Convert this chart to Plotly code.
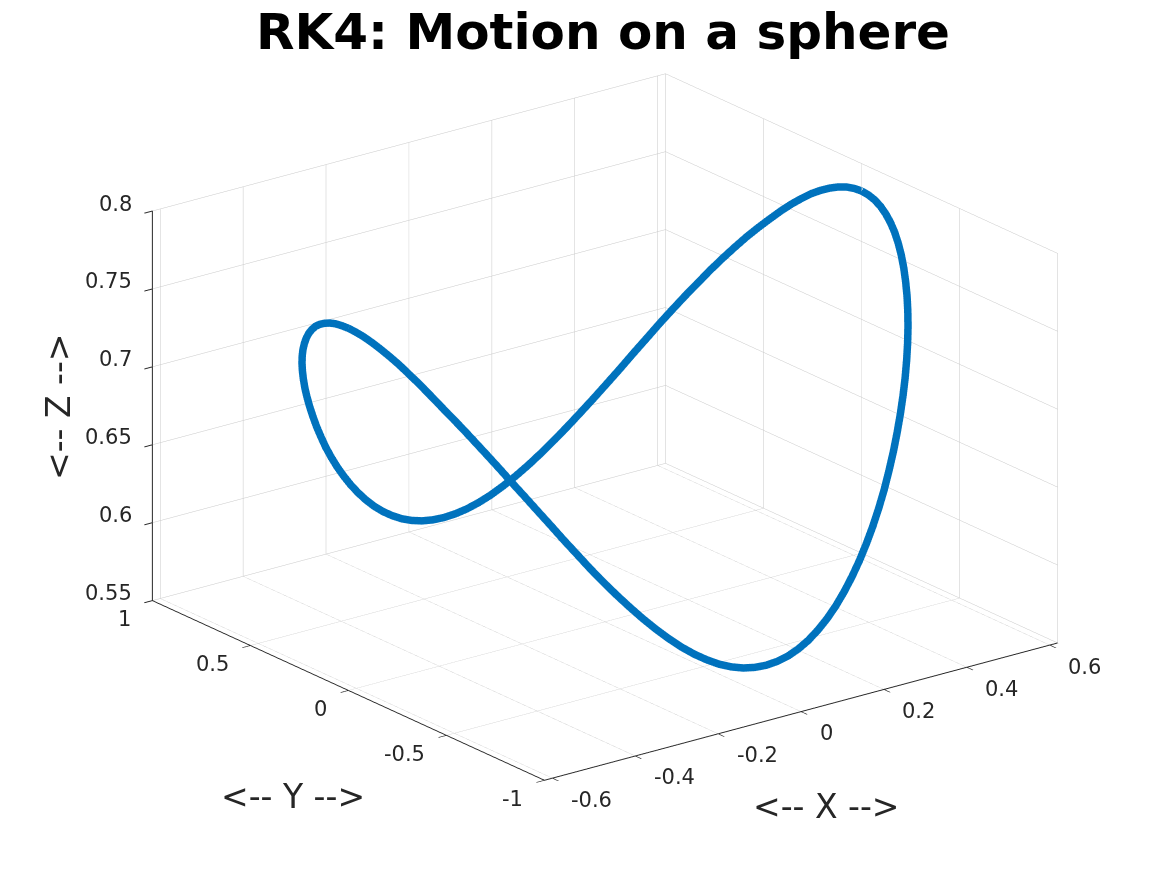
import plotly.graph_objects as go

x_vals = [0.619,0.6184,0.6166,0.6137,0.6096,0.6043,0.5979,0.5904,0.5817,0.5719,0.5610,0.5491,0.5361,0.5221,0.5071,0.4911,0.4742,0.4564,0.4377,0.4182,0.3979,0.3768,0.3551,0.3326,0.3095,0.2858,0.2616,0.2369,0.2117,0.1861,0.1602,0.1340,0.1075,0.0808,0.0540,0.0270,
          0.0,-0.0270,-0.0540,-0.0808,-0.1075,-0.1340,-0.1602,-0.1861,-0.2117,-0.2369,-0.2616,-0.2858,-0.3095,-0.3326,-0.3551,-0.3768,-0.3979,-0.4182,-0.4377,-0.4564,-0.4742,-0.4911,-0.5071,-0.5221,-0.5361,-0.5491,-0.5610,-0.5719,-0.5817,-0.5904,-0.5979,-0.6043,-0.6096,-0.6137,-0.6166,-0.6184,
          -0.619,-0.6184,-0.6166,-0.6137,-0.6096,-0.6043,-0.5979,-0.5904,-0.5817,-0.5719,-0.5610,-0.5491,-0.5361,-0.5221,-0.5071,-0.4911,-0.4742,-0.4564,-0.4377,-0.4182,-0.3979,-0.3768,-0.3551,-0.3326,-0.3095,-0.2858,-0.2616,-0.2369,-0.2117,-0.1861,-0.1602,-0.1340,-0.1075,-0.0808,-0.0540,-0.0270,
          0.0,0.0270,0.0540,0.0808,0.1075,0.1340,0.1602,0.1861,0.2117,0.2369,0.2616,0.2858,0.3095,0.3326,0.3551,0.3768,0.3979,0.4182,0.4377,0.4564,0.4742,0.4911,0.5071,0.5221,0.5361,0.5491,0.5610,0.5719,0.5817,0.5904,0.5979,0.6043,0.6096,0.6137,0.6166,0.6184,0.619]
y_vals = [0.0,0.0359,0.0716,0.1073,0.1427,0.1779,0.2127,0.2472,0.2811,0.3146,0.3474,0.3796,0.4110,0.4417,0.4715,0.5004,0.5284,0.5553,0.5812,0.6060,0.6297,0.6521,0.6734,0.6933,0.7119,0.7291,0.7450,0.7594,0.7724,0.7840,0.7940,0.8025,0.8095,0.8150,0.8189,0.8212,
          0.822,0.8212,0.8189,0.8150,0.8095,0.8025,0.7940,0.7840,0.7724,0.7594,0.7450,0.7291,0.7119,0.6933,0.6734,0.6521,0.6297,0.6060,0.5812,0.5553,0.5284,0.5004,0.4715,0.4417,0.4110,0.3796,0.3474,0.3146,0.2811,0.2472,0.2127,0.1779,0.1427,0.1073,0.0716,0.0359,
          0.0,-0.0359,-0.0716,-0.1073,-0.1427,-0.1779,-0.2127,-0.2472,-0.2811,-0.3146,-0.3474,-0.3796,-0.4110,-0.4417,-0.4715,-0.5004,-0.5284,-0.5553,-0.5812,-0.6060,-0.6297,-0.6521,-0.6734,-0.6933,-0.7119,-0.7291,-0.7450,-0.7594,-0.7724,-0.7840,-0.7940,-0.8025,-0.8095,-0.8150,-0.8189,-0.8212,
          -0.822,-0.8212,-0.8189,-0.8150,-0.8095,-0.8025,-0.7940,-0.7840,-0.7724,-0.7594,-0.7450,-0.7291,-0.7119,-0.6933,-0.6734,-0.6521,-0.6297,-0.6060,-0.5812,-0.5553,-0.5284,-0.5004,-0.4715,-0.4417,-0.4110,-0.3796,-0.3474,-0.3146,-0.2811,-0.2472,-0.2127,-0.1779,-0.1427,-0.1073,-0.0716,-0.0359,0.0]
z_vals = [0.7824,0.7820,0.7810,0.7792,0.7767,0.7736,0.7699,0.7653,0.7603,0.7546,0.7484,0.7420,0.7352,0.7278,0.7201,0.7120,0.7034,0.6948,0.6858,0.6767,0.6672,0.6579,0.6484,0.6393,0.6304,0.6219,0.6137,0.6060,0.5988,0.5922,0.5864,0.5814,0.5771,0.5738,0.5714,0.5700,
          0.5695,0.5700,0.5714,0.5738,0.5771,0.5814,0.5864,0.5922,0.5988,0.6060,0.6137,0.6219,0.6304,0.6393,0.6484,0.6579,0.6672,0.6767,0.6858,0.6948,0.7034,0.7120,0.7201,0.7278,0.7352,0.7420,0.7484,0.7546,0.7603,0.7653,0.7699,0.7736,0.7767,0.7792,0.7810,0.7820,
          0.7824,0.7820,0.7810,0.7792,0.7767,0.7736,0.7699,0.7653,0.7603,0.7546,0.7484,0.7420,0.7352,0.7278,0.7201,0.7120,0.7034,0.6948,0.6858,0.6767,0.6672,0.6579,0.6484,0.6393,0.6304,0.6219,0.6137,0.6060,0.5988,0.5922,0.5864,0.5814,0.5771,0.5738,0.5714,0.5700,
          0.5695,0.5700,0.5714,0.5738,0.5771,0.5814,0.5864,0.5922,0.5988,0.6060,0.6137,0.6219,0.6304,0.6393,0.6484,0.6579,0.6672,0.6767,0.6858,0.6948,0.7034,0.7120,0.7201,0.7278,0.7352,0.7420,0.7484,0.7546,0.7603,0.7653,0.7699,0.7736,0.7767,0.7792,0.7810,0.7820,0.7824]

x_ticks = [-0.6,-0.4,-0.2,0,0.2,0.4,0.6]
y_ticks = [-1,-0.5,0,0.5,1]
z_ticks = [0.55,0.6,0.65,0.7,0.75,0.8]
X_LIM = [-0.619, 0.619]
Y_LIM = [-1, 1]
Z_LIM = [0.55, 0.8]
FONT = "DejaVu Sans"
INK = "#262626"
W, H = 1151, 859

def ax(rng, ticks):
    return dict(range=rng, tickvals=ticks, showticklabels=False, title=dict(text=""),
                showbackground=False, showgrid=True, gridcolor="#c8c8c8", gridwidth=1, zeroline=False,
                showline=True, linecolor=INK, linewidth=2, ticks="outside", ticklen=10, tickwidth=2, tickcolor=INK,
                showspikes=False)

def tick_note(x, y, z, text, xanchor, xshift, yshift):
    return dict(x=x, y=y, z=z, text=text, showarrow=False, xanchor=xanchor, yanchor="middle",
                xshift=xshift, yshift=yshift, font=dict(family=FONT, size=21, color=INK))

notes3d = ([tick_note(t, Y_LIM[0], Z_LIM[0], str(t), "left", 17, -22) for t in x_ticks]
           + [tick_note(X_LIM[0], t, Z_LIM[0], str(t), "right", -19, -19) for t in y_ticks]
           + [tick_note(X_LIM[0], Y_LIM[1], t, str(t), "right", -18, 7) for t in z_ticks])

fig = go.Figure(go.Scatter3d(x=x_vals, y=y_vals, z=z_vals, mode="lines",
                             line=dict(color="#0072BD", width=15), hoverinfo="skip", showlegend=False))
def title_note(text, px, py, angle=0):
    return dict(text=text, xref="paper", yref="paper", x=(px-8)/W, y=1-(py-8)/H, xanchor="center", yanchor="middle",
                showarrow=False, textangle=angle, font=dict(family=FONT, size=33, color=INK))
fig.update_layout(
    width=W, height=H, margin=dict(l=0, r=0, t=0, b=0), paper_bgcolor="white",
    font=dict(family=FONT, color=INK),
    title=dict(text="<b>RK4: Motion on a sphere</b>", x=595/W, y=1-23/H, xanchor="center", yanchor="middle",
               font=dict(family=FONT, size=50, color="black")),
    scene=dict(
        domain=dict(x=[0.0404, 0.9961], y=[0.0262, 0.9994]),
        xaxis=ax(X_LIM, x_ticks), yaxis=ax(Y_LIM, y_ticks), zaxis=ax(Z_LIM, z_ticks),
        aspectmode="manual", aspectratio=dict(x=1.545, y=1.545, z=0.995),
        camera=dict(projection=dict(type="orthographic"), eye=dict(x=-1.137, y=-1.488, z=0.70), up=dict(x=0, y=0, z=1),
                    center=dict(x=0, y=0, z=0)),
        annotations=notes3d,
    ),
    annotations=[
        title_note("&lt;-- X --&gt;", 826, 806),
        title_note("&lt;-- Y --&gt;", 293, 796),
        title_note("&lt;-- Z --&gt;", 58, 407, -90),
    ],
)
fig.write_html("out.html")
